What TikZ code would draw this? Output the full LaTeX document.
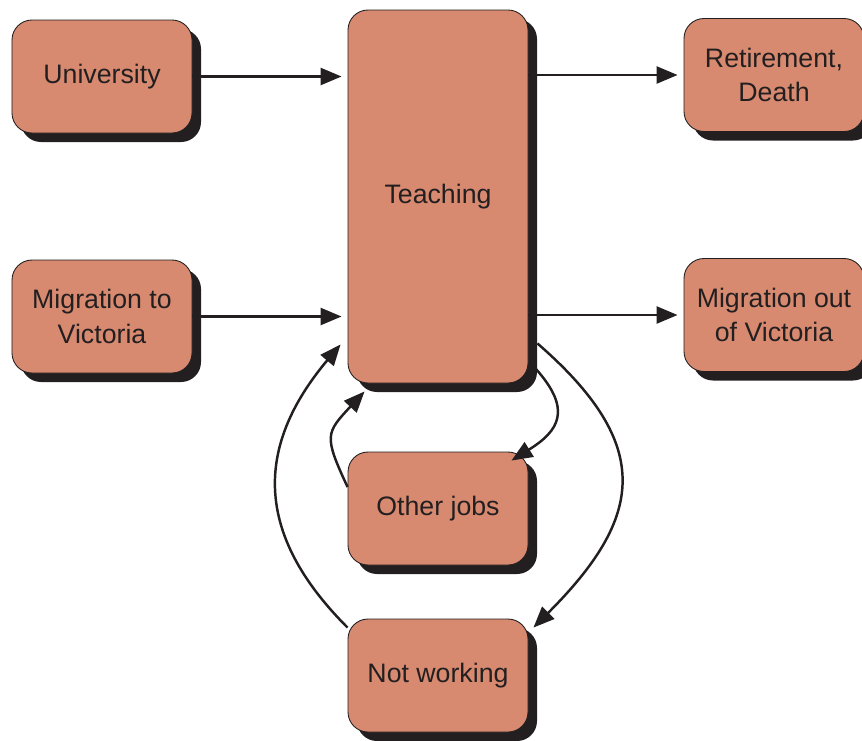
\documentclass[tikz,border=0pt]{standalone}
\usepackage{fontspec}
\setmainfont{Liberation Sans}
\usepackage{xcolor}
\usepackage{tikz}
\usetikzlibrary{arrows.meta,shadows}
\definecolor{flowfill}{HTML}{D78A70}
\definecolor{flowink}{HTML}{231F20}

\begin{document}
\begin{tikzpicture}[>={Triangle[length=0.42cm,width=0.34cm]},
  every node/.style={font=\fontsize{15.2}{19.5}\selectfont, align=center, text=flowink},
  stage/.style={draw=flowink, line width=0.5pt, fill=flowfill, rounded corners=0.4cm,
    minimum width=3.6cm, minimum height=2.26cm,
    general shadow={fill=flowink, shadow xshift=0.18cm, shadow yshift=-0.18cm}},
  flow/.style={->, draw=flowink, line width=1.4pt}]
  \clip (0,0) rectangle (17.24,-14.8);

  \node[stage] (uni) at (2.04,-1.53) {University};
  \node[stage] (migin) at (2.04,-6.33) {Migration to\\Victoria};
  \node[stage, minimum height=7.46cm] (teach) at (8.76,-3.93) {Teaching};
  \node[stage] (retire) at (15.48,-1.5) {Retirement,\\Death};
  \node[stage] (migout) at (15.48,-6.3) {Migration out\\of Victoria};
  \node[stage] (other) at (8.76,-10.17) {Other jobs};
  \node[stage] (notw) at (8.76,-13.51) {Not working};

  % into and out of teaching
  \draw[flow, shorten >=0.12cm] (uni) -- (uni -| teach.west);
  \draw[flow, shorten >=0.12cm] (migin) -- (migin -| teach.west);
  \draw[flow, shorten >=0.12cm] (retire -| teach.east) -- (retire);
  \draw[flow, shorten >=0.12cm] (migout -| teach.east) -- (migout);

  % loops below
  \draw[flow] ([shift={(0.14,0.3)}]teach.south east) to[out=-48, in=32, looseness=1.5] ([shift={(-0.34,-0.18)}]other.north east);
  \draw[flow] ([yshift=0.43cm]other.west) to[out=115, in=-133, looseness=1.5] ([shift={(0.34,-0.16)}]teach.south west);
  \draw[flow] ([shift={(0.18,0.8)}]teach.south east) to[out=-41, in=45, looseness=1.4] ([shift={(0.1,-0.18)}]notw.north east);
  \draw[flow] ([yshift=-0.18cm]notw.north west) to[out=135, in=-130, looseness=1.2] ([shift={(-0.14,0.78)}]teach.south west);
\end{tikzpicture}
\end{document}
